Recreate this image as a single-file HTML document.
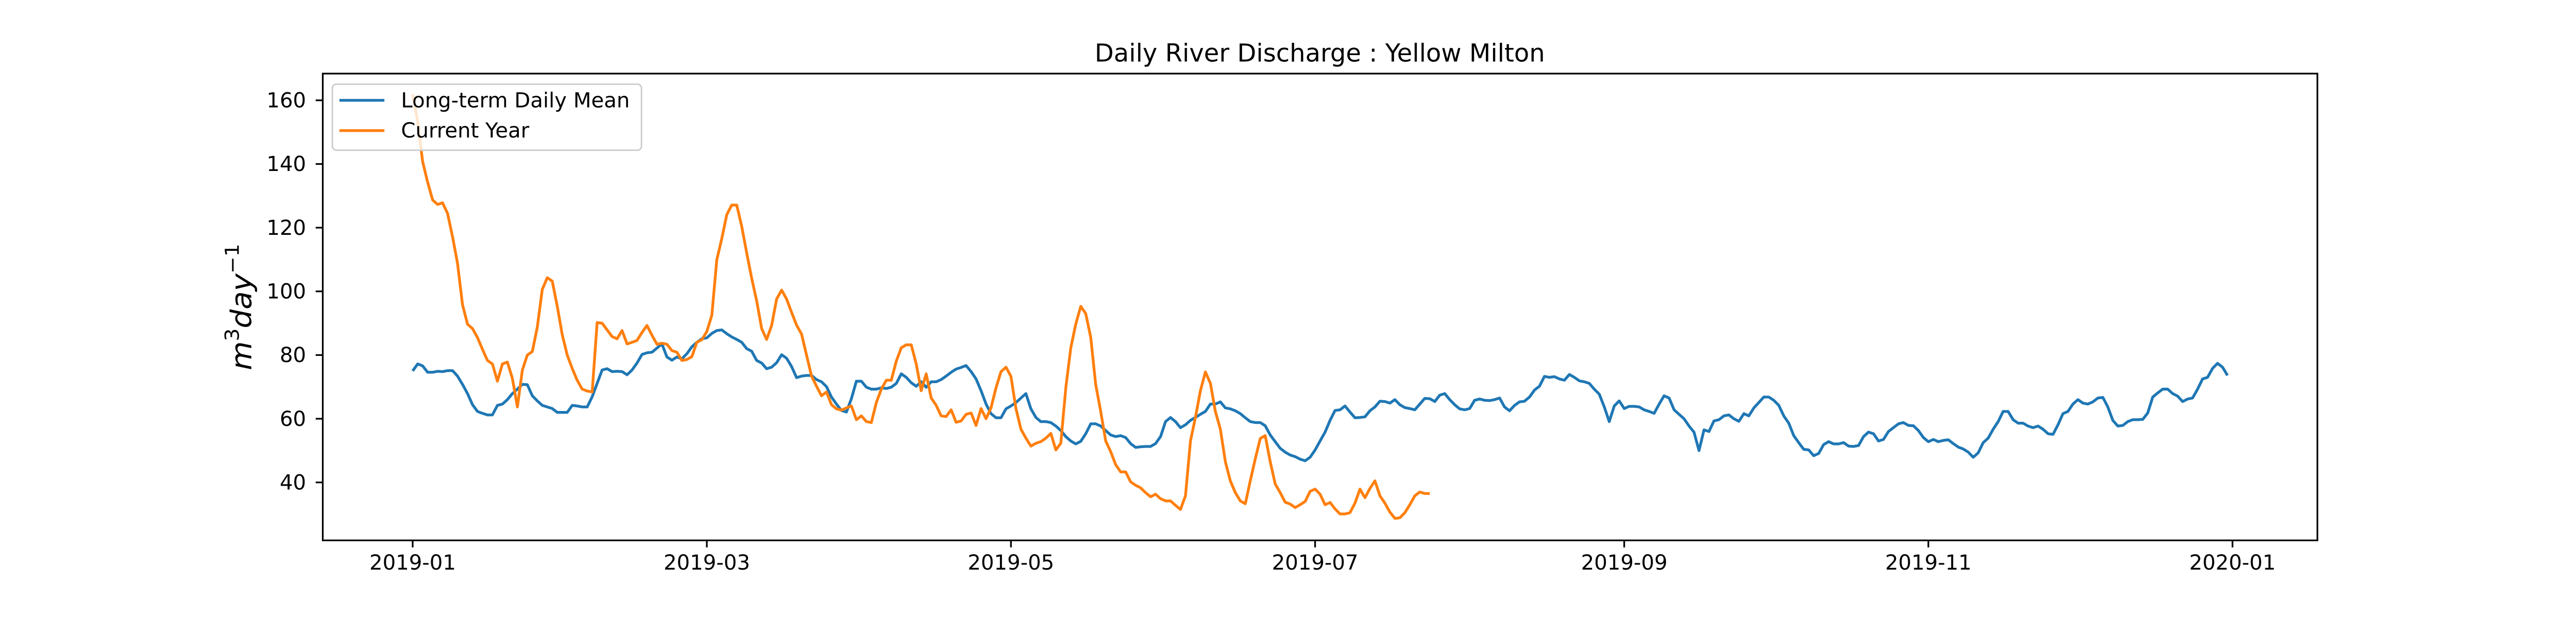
<!DOCTYPE html>
<html>
<head>
<meta charset="utf-8">
<style>
  html, body { margin:0; padding:0; background:#fff; width:100%; height:100%; overflow:hidden; }
  svg { display:block; width:100vw; height:100vh; font-family:"DejaVu Sans","Liberation Sans",sans-serif; }
</style>
</head>
<body>
<svg id="chart" viewBox="0 -3 5100 1226" preserveAspectRatio="none" xmlns="http://www.w3.org/2000/svg">
  <rect x="0" y="-10" width="5100" height="1250" fill="#fff"/>
  <text x="2613" y="119" font-size="49" text-anchor="middle" fill="#000">Daily River Discharge : Yellow Milton</text>
  <g id="series"></g>
  <g id="axes"></g>
  <text transform="translate(497,606) rotate(-90)" font-size="56" text-anchor="middle" fill="#000" textLength="251" lengthAdjust="spacingAndGlyphs"><tspan font-style="italic">m</tspan><tspan font-size="38" dy="-24">3</tspan><tspan font-style="italic" dy="24">day</tspan><tspan font-size="38" dy="-24">−1</tspan></text>
  <g id="legend">
    <rect x="658" y="164" width="612" height="131" rx="8" fill="#fff" fill-opacity="0.8" stroke="#cccccc" stroke-width="3"/>
    <line x1="672" y1="196" x2="761" y2="196" stroke="#1f77b4" stroke-width="5.5"/>
    <text x="794" y="210" font-size="41" fill="#000">Long-term Daily Mean</text>
    <line x1="672" y1="256" x2="761" y2="256" stroke="#ff7f0e" stroke-width="5.5"/>
    <text x="794" y="270" font-size="41" fill="#000">Current Year</text>
  </g>
</svg>
<script>
const meanValues = [
75.0,77.2,76.6,74.6,74.6,74.9,74.8,75.1,75.1,73.4,
70.8,67.9,64.4,62.3,61.7,61.2,61.2,64.2,64.6,66.0,
67.9,69.3,70.8,70.7,67.2,65.6,64.2,63.7,63.2,62.0,
62.0,62.0,64.2,64.0,63.7,63.7,66.9,71.1,75.3,75.7,
74.8,74.9,74.8,73.8,75.3,77.5,80.2,80.7,80.9,82.2,
83.5,79.4,78.4,79.4,78.8,80.4,82.6,84.0,85.1,85.4,
86.8,87.7,87.9,86.7,85.7,84.9,84.0,82.0,81.2,78.3,
77.5,75.7,76.2,77.6,80.1,79.0,76.4,72.9,73.4,73.6,
73.6,72.3,71.6,70.1,66.8,64.6,62.6,62.1,66.3,71.8,
71.8,69.9,69.3,69.3,69.7,69.5,69.9,71.1,74.1,73.0,
71.3,70.2,71.6,69.9,71.6,71.6,72.3,73.4,74.6,75.6,
76.1,76.7,74.8,72.5,68.8,64.6,61.6,60.3,60.3,63.1,
64.0,65.1,66.5,67.9,63.1,60.4,59.1,59.1,58.8,57.7,
56.3,54.4,53.0,52.1,52.9,55.3,58.4,58.4,57.7,56.3,
54.9,54.4,54.7,54.1,52.2,51.0,51.2,51.3,51.3,52.2,
54.4,59.1,60.4,59.1,57.2,58.1,59.5,60.4,61.4,62.3,
64.6,64.6,65.3,63.4,63.1,62.5,61.6,60.3,59.1,58.8,
58.8,57.8,54.9,52.8,50.7,49.5,48.6,48.1,47.3,46.8,
47.9,
50.2,53.0,55.8,59.5,62.6,62.8,64.0,62.1,60.3,60.4,
60.6,62.5,63.7,65.5,65.4,64.9,66.0,64.4,63.5,63.2,
62.8,64.6,66.4,66.3,65.4,67.4,67.9,66.0,64.4,63.1,
62.8,63.2,65.8,66.2,65.8,65.7,66.0,66.5,63.7,62.5,
64.2,65.3,65.5,66.8,69.0,70.2,73.3,73.0,73.2,72.5,
72.1,73.9,73.0,71.9,71.6,71.1,69.3,67.7,63.7,59.1,
64.0,65.6,63.2,63.9,63.9,63.7,62.8,62.3,61.7,64.6,
67.2,66.5,62.8,61.4,60.0,57.7,55.8,50.0,56.5,56.0,
59.3,59.7,60.9,61.2,60.0,59.2,61.6,60.9,63.4,65.1,
66.8,
66.8,65.8,64.2,60.9,58.6,54.7,52.5,50.4,50.2,48.4,
49.1,51.9,52.8,52.1,52.1,52.5,51.4,51.3,51.6,54.4,
55.8,55.3,53.0,53.5,56.0,57.2,58.4,58.8,57.9,57.8,
56.3,54.1,52.8,53.5,52.8,53.2,53.4,52.2,51.1,50.5,
49.5,47.9,49.3,52.5,53.9,56.7,59.1,62.3,62.3,59.7,
58.6,58.6,57.7,57.2,57.7,56.7,55.3,55.1,58.1,61.6,
62.3,64.6,66.0,64.9,64.6,65.3,66.5,66.7,63.7,59.5,
57.7,57.9,59.1,59.7,59.7,59.8,61.8,66.8,68.1,69.3,
69.3,67.9,67.1,65.4,66.2,66.5,69.3,72.5,73.0,75.8,
77.4,76.2,73.6
];
const currentValues = [
161.9,153.3,140.8,134.3,128.7,127.3,127.8,124.5,117.1,108.8,
95.8,89.7,88.3,85.5,81.8,78.3,77.2,71.8,77.2,77.8,
72.7,63.7,75.3,80.0,81.1,88.8,100.6,104.3,103.2,95.3,
86.4,80.0,75.8,72.1,69.3,68.7,68.4,90.2,90.0,87.9,
85.8,85.1,87.7,83.5,84.0,84.6,87.1,89.3,86.2,83.4,
83.7,83.4,81.4,80.9,78.3,78.6,79.5,84.0,84.8,87.4,
92.5,109.9,116.6,124.1,127.1,127.1,120.4,112.0,104.1,97.0,
88.3,84.9,89.3,97.6,100.4,97.6,93.4,89.4,86.6,80.0,
73.4,70.2,67.2,68.4,64.4,63.1,62.7,63.4,64.0,59.7,
60.9,59.1,58.8,65.1,69.3,72.1,72.1,78.1,82.3,83.2,
83.2,77.2,68.8,74.1,66.5,64.2,60.9,60.7,62.8,58.9,
59.3,61.4,61.8,57.9,63.2,60.0,63.4,69.7,74.8,76.2,
73.3,63.2,56.7,53.9,51.4,52.3,52.8,53.9,55.4,50.2,
52.3,69.7,82.3,89.7,95.3,93.0,85.5,70.7,62.3,53.0,
49.7,45.6,43.3,43.3,40.2,39.1,38.3,36.8,35.5,36.3,
34.9,34.2,34.2,32.8,31.5,35.8,53.0,60.4,68.8,74.7,
71.1,62.3,56.7,46.5,40.5,36.8,34.2,33.3,40.5,47.4,
53.8,54.7,46.5,39.5,36.8,33.8,33.2,32.1,33.0,34.0,
37.2,
37.9,36.3,33.0,33.7,31.7,30.1,30.1,30.5,33.5,37.9,
35.2,38.1,40.5,35.8,33.5,30.7,28.7,28.9,30.5,33.0,
35.8,37.0,36.5,36.5
];
const yTickValues = [40, 60, 80, 100, 120, 140, 160];
const xTickDays = [0, 59, 120, 181, 243, 304, 365];
const xTickLabels = ["2019-01","2019-03","2019-05","2019-07","2019-09","2019-11","2020-01"];

const AX_L = 639, AX_R = 4588, AX_T = 143, AX_B = 1069;
function xs(d) { return 817 + d * 9.871; }
function ys(v) { return 196 + (160 - v) * 6.317; }

const NS = "http://www.w3.org/2000/svg";
const series = document.getElementById("series");
const axes = document.getElementById("axes");

function mk(tag, attrs) {
  const el = document.createElementNS(NS, tag);
  for (const k in attrs) el.setAttribute(k, attrs[k]);
  return el;
}

function linePath(vals) {
  return vals.map((v, i) => (i ? "L" : "M") + xs(i).toFixed(1) + " " + ys(v).toFixed(1)).join(" ");
}

const meanLine = mk("path", {d: linePath(meanValues), fill: "none", stroke: "#1f77b4", "stroke-width": 5.5, "stroke-linejoin": "round", "stroke-linecap": "butt"});


series.appendChild(meanLine);

const curLine = mk("path", {d: linePath(currentValues), fill: "none", stroke: "#ff7f0e", "stroke-width": 5.5, "stroke-linejoin": "round", "stroke-linecap": "butt"});


series.appendChild(curLine);

const frame = mk("rect", {x: AX_L, y: AX_T, width: AX_R - AX_L, height: AX_B - AX_T, fill: "none", stroke: "#000", "stroke-width": 3.3});


axes.appendChild(frame);

yTickValues.forEach(v => {
  const y = ys(v);
  const t = mk("line", {x1: AX_L - 14, x2: AX_L, y1: y, y2: y, stroke: "#000", "stroke-width": 3.3});
  
  
  axes.appendChild(t);
  const lb = mk("text", {x: 606, y: y + 14, "font-size": 41, "text-anchor": "end", fill: "#000"});
  lb.textContent = String(v);
  
  
  axes.appendChild(lb);
});

xTickDays.forEach((d, i) => {
  const x = xs(d);
  const t = mk("line", {x1: x, x2: x, y1: AX_B, y2: AX_B + 14, stroke: "#000", "stroke-width": 3.3});
  
  
  axes.appendChild(t);
  const lb = mk("text", {x: x, y: 1127, "font-size": 41, "text-anchor": "middle", fill: "#000"});
  lb.textContent = xTickLabels[i];
  
  
  axes.appendChild(lb);
});
</script>
</body>
</html>
